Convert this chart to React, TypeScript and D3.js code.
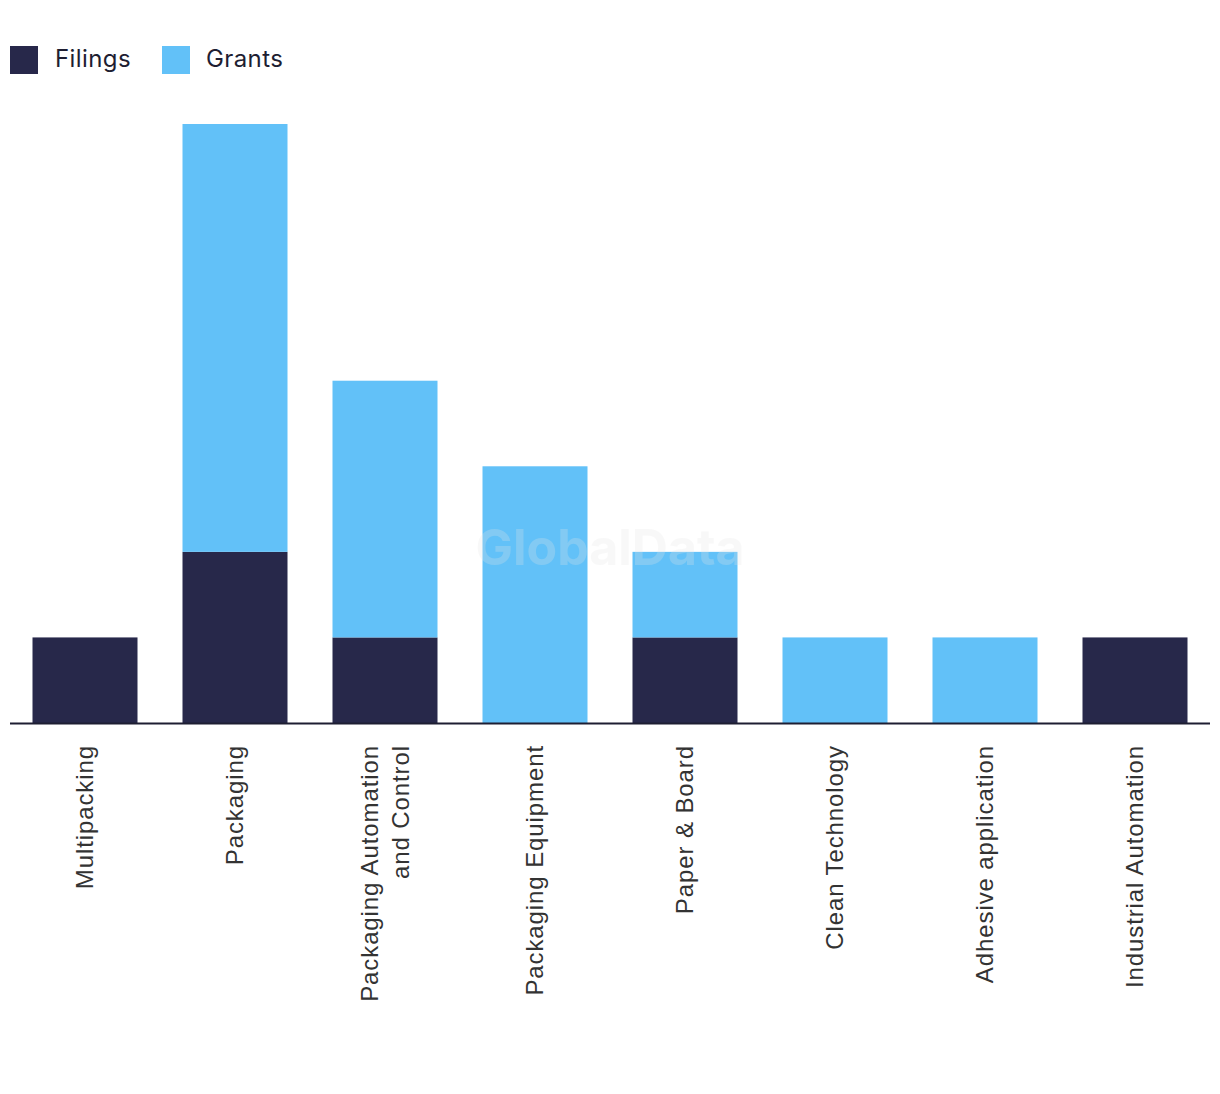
import React from "react";
import * as d3 from "d3";

const categories = [
  "Multipacking",
  "Packaging",
  "Packaging Automation and Control",
  "Packaging Equipment",
  "Paper & Board",
  "Clean Technology",
  "Adhesive application",
  "Industrial Automation",
];
const labelLines = [
  ["Multipacking"],
  ["Packaging"],
  ["Packaging Automation", "and Control"],
  ["Packaging Equipment"],
  ["Paper & Board"],
  ["Clean Technology"],
  ["Adhesive application"],
  ["Industrial Automation"],
];
const filings = [1, 2, 1, 0, 1, 0, 0, 1];
const grants = [0, 5, 3, 3, 1, 1, 1, 0];
const seriesNames = ["Filings", "Grants"];
const colors = ["#27284A", "#62C1F8"];

export default function App() {
  const W = 1220, H = 1094;
  const x = d3.scaleBand<string>().domain(categories).range([10, 1210]).paddingInner(0.3).paddingOuter(0.15);
  const y = d3.scaleLinear().domain([0, 7]).range([723, 124]);
  const rows = categories.map((c, i) => ({ cat: c, Filings: filings[i], Grants: grants[i] }));
  const stack = d3.stack<any>().keys(seriesNames)(rows);
  const font = "'Liberation Sans', Arial, sans-serif";
  return (
    <svg width={W} height={H} style={{ position: "absolute", left: 0, top: 0, background: "#fff" }}>
      <g>
        {seriesNames.map((s, si) => (
          <g key={s}>
            <rect x={10 + si * 152} y={46} width={28} height={28} fill={colors[si]} />
            <text x={55 + si * 151} y={67} fontFamily="Inter, sans-serif" fontSize={24} letterSpacing={0.4} fill="#1e1e32">{s}</text>
          </g>
        ))}
      </g>
      {stack.map((layer, si) => (
        <g key={si} fill={colors[si]}>
          {layer.map((d, i) =>
            d[1] - d[0] > 0 ? (
              <rect key={i} x={x(categories[i])} width={x.bandwidth()} y={y(d[1])} height={y(d[0]) - y(d[1])} />
            ) : null
          )}
        </g>
      ))}
      <line x1={10} x2={1210} y1={y(0) + 0.5} y2={y(0) + 0.5} stroke="#1e1e32" strokeWidth={2} />
      {categories.map((c, i) => {
        const cx = (x(c) as number) + x.bandwidth() / 2;
        const lines = labelLines[i];
        const n = lines.length;
        return (
          <text key={c} transform={`translate(${cx},745) rotate(-90)`} textAnchor="end" fontFamily={font} fontSize={24} letterSpacing={0.9} fill="#333">
            {lines.map((l, li) => (
              <tspan key={li} x={0} y={(li - (n - 1) / 2) * 31 + 8}>{l}</tspan>
            ))}
          </text>
        );
      })}
      <text x={610} y={565} textAnchor="middle" fontFamily="Inter, sans-serif" fontWeight={700} fontSize={50} fill="#e6e6e6" opacity={0.25}>GlobalData</text>
    </svg>
  );
}
